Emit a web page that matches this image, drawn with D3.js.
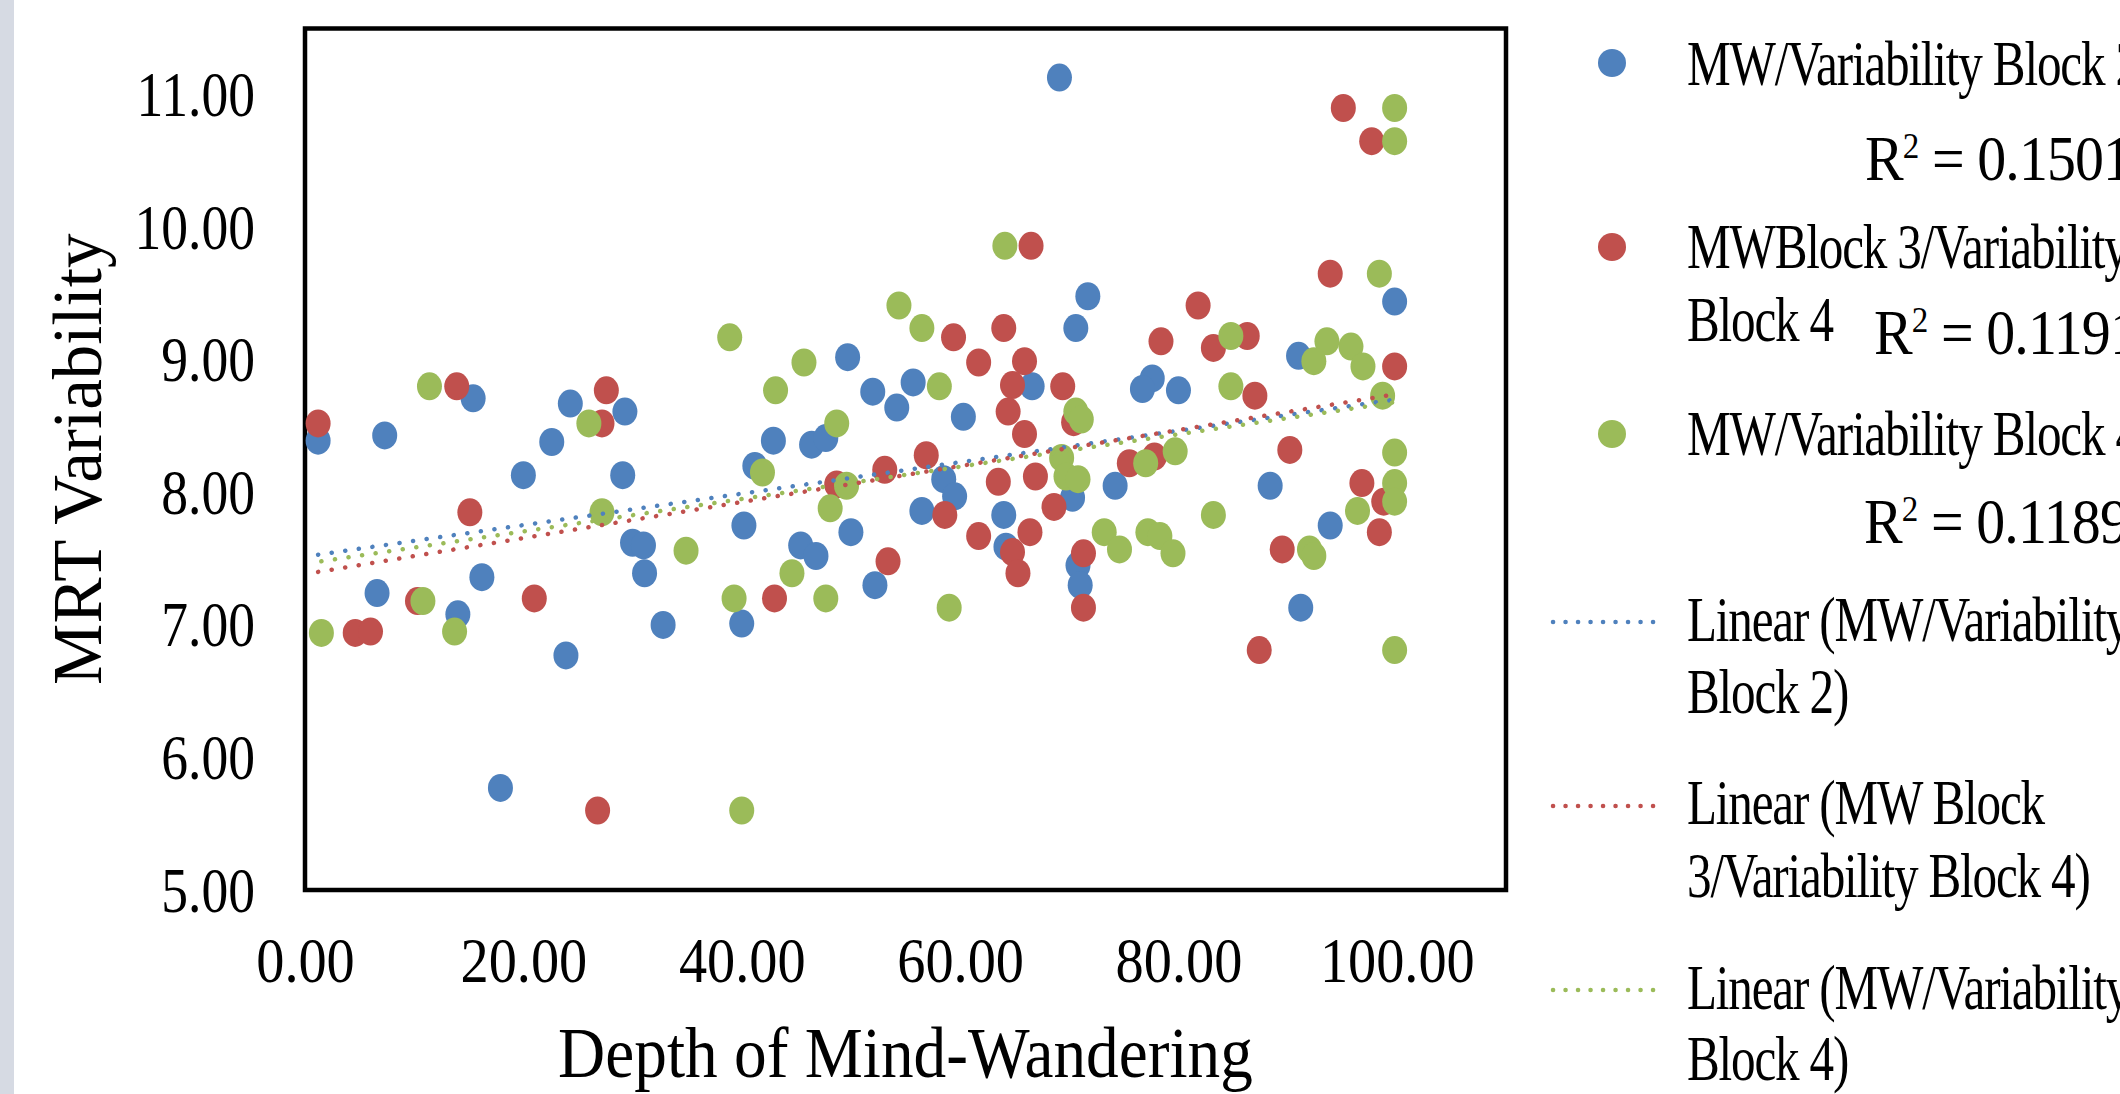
<!DOCTYPE html>
<html><head><meta charset="utf-8">
<script src="https://cdn.jsdelivr.net/npm/d3@7"></script>
<style>html,body{margin:0;padding:0;background:#fff;overflow:hidden}</style>
</head><body><svg id="c" width="2120" height="1094"></svg>
<script>
// ---- data ----
const blueX = [1.2,7.3,15.4,22.6,24.3,29.3,42.9,46.4,47.7,49.7,41.2,20.0,29.1,40.2,30.0,31.0,31.1,45.4,46.8,16.2,6.6,14.0,23.9,32.8,40.0,17.9,69.1,99.8,71.7,70.6,91.0,52.0,55.7,54.2,60.3,66.6,77.6,76.7,80.0,58.5,59.5,70.3,74.2,88.4,93.9,56.5,64.0,50.0,52.2,64.2,70.8,71.0,91.2];
const blueY = [8.39,8.43,8.71,8.38,8.67,8.61,8.39,8.36,8.41,9.02,8.20,8.13,8.13,7.75,7.62,7.60,7.39,7.60,7.52,7.36,7.24,7.08,6.77,7.00,7.01,5.77,11.13,9.44,9.48,9.24,9.03,8.76,8.83,8.64,8.57,8.80,8.86,8.78,8.77,8.10,7.97,7.96,8.05,8.05,7.75,7.86,7.83,7.70,7.30,7.59,7.45,7.30,7.13];

const redX = [1.2,13.9,27.6,27.2,15.1,48.7,10.3,4.6,6.0,21.0,43.0,26.8,95.1,97.7,66.5,93.9,81.8,59.4,64.0,61.7,65.9,78.4,83.2,86.3,99.8,64.8,64.4,65.9,69.4,70.4,87.0,56.9,90.2,75.5,77.8,53.1,63.5,66.9,96.8,98.8,98.4,58.6,68.6,53.4,61.7,66.4,64.8,65.3,71.3,71.3,89.5,87.4];
const redY = [8.52,8.80,8.77,8.52,7.85,8.06,7.18,6.94,6.95,7.20,7.20,5.60,10.90,10.65,9.86,9.65,9.41,9.17,9.24,8.98,8.99,9.14,9.09,9.18,8.95,8.81,8.61,8.44,8.80,8.53,8.73,8.28,8.32,8.22,8.27,8.17,8.08,8.12,8.07,7.93,7.70,7.83,7.89,7.48,7.67,7.70,7.55,7.39,7.54,7.13,7.57,6.81];

const greenX = [38.9,45.7,43.1,11.4,26.0,48.7,41.9,27.2,34.9,44.6,48.1,49.6,10.8,13.7,1.5,39.3,47.7,40.0,99.8,99.8,64.1,98.4,54.4,56.5,84.8,93.6,92.4,95.8,96.9,98.7,58.1,70.6,71.1,84.8,79.7,99.8,69.3,69.7,70.8,77.0,99.8,99.8,96.4,83.2,73.2,74.6,77.2,78.3,79.5,59.0,92.0,92.4,99.8];
const greenY = [9.17,8.98,8.77,8.80,8.52,8.52,8.15,7.85,7.56,7.39,7.88,8.05,7.18,6.95,6.94,7.20,7.20,5.60,10.90,10.65,9.86,9.65,9.41,9.24,9.18,9.14,8.99,9.10,8.95,8.73,8.80,8.61,8.55,8.80,8.31,8.30,8.26,8.12,8.10,8.22,8.07,7.93,7.86,7.83,7.70,7.57,7.70,7.67,7.54,7.13,7.57,7.52,6.81];

// linear trendline end points
const trendBlueX = [1.2, 99.8],  trendBlueY = [7.53, 8.70];
const trendRedX = [1.2, 99.8],   trendRedY = [7.40, 8.74];
const trendGreenX = [1.5, 99.8], trendGreenY = [7.48, 8.68];

const xTicks = [0, 20, 40, 60, 80, 100];
const yTicks = [5, 6, 7, 8, 9, 10, 11];
const seriesNames = ["MW/Variability Block 2", "MWBlock 3/Variability", "MW/Variability Block 4"];
const seriesNames2 = ["", "Block 4", ""];
const r2Values = ["0.1501", "0.1191", "0.1189"];
const trendNames = [["Linear (MW/Variability", "Block 2)"], ["Linear (MW Block", "3/Variability Block 4)"], ["Linear (MW/Variability", "Block 4)"]];
const colors = ["#4F81BD", "#C0504D", "#9BBB59"];

// ---- drawing ----
const svg = d3.select("#c");
const FONT = "'Liberation Serif','Times New Roman',serif";
svg.append("rect").attr("x",0).attr("y",0).attr("width",2120).attr("height",1094).attr("fill","#fff");
svg.append("rect").attr("x",0).attr("y",0).attr("width",14).attr("height",1094).attr("fill","#d6dae3");

const x = d3.scaleLinear().domain([0, 110]).range([305, 1506]);
const y = d3.scaleLinear().domain([5, 11.5]).range([890, 28.5]);

// frame
svg.append("rect").attr("x", x(0)).attr("y", y(11.5))
  .attr("width", x(110) - x(0)).attr("height", y(5) - y(11.5))
  .attr("fill", "#fff").attr("stroke", "#000").attr("stroke-width", 4.5);

// axes
const xAxis = svg.append("g").attr("transform", `translate(0,${y(5)})`)
  .call(d3.axisBottom(x).tickValues(xTicks).tickFormat(d3.format(".2f")).tickSize(0));
xAxis.select(".domain").remove();
xAxis.selectAll("text").attr("y", 0).attr("dy", null)
  .attr("transform", "translate(0,92) scale(0.88,1)")
  .attr("font-family", FONT).attr("font-size", 64).attr("fill", "#000");

const yAxis = svg.append("g").attr("transform", `translate(${x(0)},0)`)
  .call(d3.axisLeft(y).tickValues(yTicks).tickFormat(d3.format(".2f")).tickSize(0));
yAxis.select(".domain").remove();
yAxis.selectAll("text").attr("x", 0).attr("dy", null).attr("y", 0)
  .attr("transform", "translate(-50,21) scale(0.85,1)")
  .attr("font-family", FONT).attr("font-size", 63).attr("fill", "#000");

// axis titles
svg.append("text").attr("transform", `translate(${(x(0)+x(110))/2},1077) scale(0.92,1)`)
  .attr("text-anchor", "middle").attr("font-family", FONT).attr("font-size", 71)
  .text("Depth of Mind-Wandering");
svg.append("text").attr("transform", `translate(101,${(y(5)+y(11.5))/2}) rotate(-90)`)
  .attr("text-anchor", "middle").attr("font-family", FONT).attr("font-size", 69)
  .text("MRT Variability");

// points
const series = [[blueX, blueY], [redX, redY], [greenX, greenY]];
series.forEach(([xs, ys], i) => {
  svg.append("g").selectAll("ellipse").data(xs.map((v, j) => [v, ys[j]])).join("ellipse")
    .attr("cx", d => x(d[0])).attr("cy", d => y(d[1]))
    .attr("rx", 12.5).attr("ry", 14).attr("fill", colors[i]);
});

// trendlines
const trends = [[trendBlueX, trendBlueY], [trendRedX, trendRedY], [trendGreenX, trendGreenY]];
const line = d3.line().x(d => x(d[0])).y(d => y(d[1]));
trends.forEach(([xs, ys], i) => {
  svg.append("path").datum(xs.map((v, j) => [v, ys[j]])).attr("d", line)
    .attr("fill", "none").attr("stroke", colors[i]).attr("stroke-width", 4.5)
    .attr("stroke-linecap", "round").attr("stroke-dasharray", "0.1 13.6");
});

// legend
const lg = svg.append("g").attr("font-family", FONT).attr("font-size", 63).attr("fill", "#000");
function ltext(tx, ty, s) {
  return lg.append("text").attr("transform", `translate(${tx},${ty}) scale(0.78,1)`)
    .attr("letter-spacing", -1.5).text(s);
}
function r2text(tx, ty, v) {
  const t = lg.append("text").attr("transform", `translate(${tx},${ty}) scale(0.92,1)`).attr("letter-spacing", -1);
  t.append("tspan").text("R");
  t.append("tspan").attr("font-size", 36).attr("dy", -22).text("2");
  t.append("tspan").attr("dy", 22).text(" = " + v);
}
const markerY = [63, 247, 434];
const nameY = [85, 268, 455];
const r2Pos = [[1865, 180], [1874, 354], [1864, 543]];
seriesNames.forEach((n, i) => {
  lg.append("circle").attr("cx", 1612).attr("cy", markerY[i]).attr("r", 14).attr("fill", colors[i]);
  ltext(1687, nameY[i], n);
  if (seriesNames2[i]) ltext(1687, 341, seriesNames2[i]);
  r2text(r2Pos[i][0], r2Pos[i][1], r2Values[i]);
});
const sampleY = [622, 806, 990];
const tBase = [[641, 713], [824, 897], [1009, 1080]];
trendNames.forEach((ln, i) => {
  lg.append("line").attr("x1", 1553).attr("x2", 1665).attr("y1", sampleY[i]).attr("y2", sampleY[i])
    .attr("stroke", colors[i]).attr("stroke-width", 4.5).attr("stroke-linecap", "round")
    .attr("stroke-dasharray", "0.1 12.4");
  ltext(1687, tBase[i][0], ln[0]);
  ltext(1687, tBase[i][1], ln[1]);
});
</script></body></html>
